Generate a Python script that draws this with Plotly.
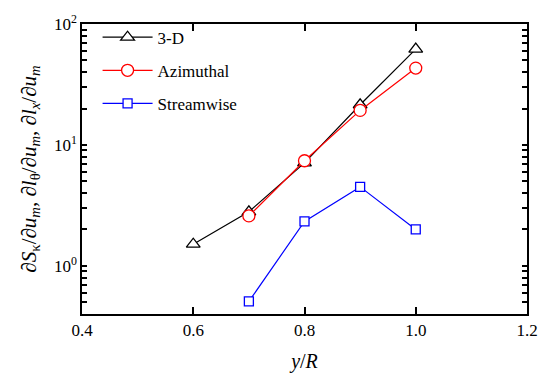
import plotly.graph_objects as go

x_3d = [0.6, 0.7, 0.8, 0.9, 1.0]
y_3d = [1.51, 2.8, 7.1, 21.5, 62]
x_az = [0.7, 0.8, 0.9, 1.0]
y_az = [2.59, 7.4, 19.3, 43.2]
x_st = [0.7, 0.8, 0.9, 1.0]
y_st = [0.508, 2.33, 4.5, 2.0]

x_ticks = [0.4, 0.6, 0.8, 1.0, 1.2]
x_ticktext = ["0.4", "0.6", "0.8", "1.0", "1.2"]
y_major = [1, 10, 100]
y_major_text = ["10<sup>0</sup>", "10<sup>1</sup>", "10<sup>2</sup>"]
y_minor = [0.4, 0.5, 0.6, 0.7, 0.8, 0.9, 2, 3, 4, 5, 6, 7, 8, 9,
           20, 30, 40, 50, 60, 70, 80, 90]

FONT = "Liberation Serif"
Y_RANGE = [-0.398, 2]
Y_TITLE = ("∂<i>S</i><sub>κ</sub>/∂<i>u</i><sub><i>m</i></sub>, "
           "∂<i>l</i><sub>θ</sub>/∂<i>u</i><sub><i>m</i></sub>, "
           "∂<i>l</i><sub><i>x</i></sub>/∂<i>u</i><sub><i>m</i></sub>")

y_tickvals = y_major + y_minor
y_ticktext = y_major_text + [""] * len(y_minor)

fig = go.Figure()
fig.add_trace(go.Scatter(x=x_3d, y=y_3d, mode="lines+markers", name="3-D",
                         legendgroup="a",
                         line=dict(color="black", width=1.2),
                         marker=dict(symbol="triangle-up", size=12, color="white",
                                     line=dict(color="black", width=1.3))))
fig.add_trace(go.Scatter(x=x_az, y=y_az, mode="lines+markers", name="Azimuthal",
                         legendgroup="b",
                         line=dict(color="red", width=1.2),
                         marker=dict(symbol="circle", size=12, color="white",
                                     line=dict(color="red", width=1.3))))
fig.add_trace(go.Scatter(x=x_st, y=y_st, mode="lines+markers", name="Streamwise",
                         legendgroup="c",
                         line=dict(color="blue", width=1.2),
                         marker=dict(symbol="square", size=9, color="white",
                                     line=dict(color="blue", width=1.3))))

fig.update_layout(
    width=550, height=381,
    margin=dict(l=82, r=13, t=15, b=64),
    plot_bgcolor="white", paper_bgcolor="white",
    font=dict(family=FONT, size=17, color="black"),
    showlegend=True,
    legend=dict(x=0.035, y=1.015, xanchor="left", yanchor="top",
                bgcolor="rgba(0,0,0,0)", font=dict(size=17, family=FONT),
                itemwidth=50, tracegroupgap=8),
    xaxis=dict(range=[0.4, 1.2], tickvals=x_ticks, ticktext=x_ticktext,
               ticks="inside", ticklen=7, tickwidth=1.5, tickcolor="black",
               showline=True, linecolor="black", linewidth=1.5, mirror="ticks",
               showgrid=False, zeroline=False,
               tickfont=dict(size=17, family=FONT),
               title=dict(text="<i>y</i>/<i>R</i>", font=dict(size=20, family=FONT),
                          standoff=15)),
    yaxis=dict(type="log", range=Y_RANGE, tickmode="array",
               tickvals=y_tickvals, ticktext=y_ticktext,
               ticks="inside", ticklen=5, tickwidth=1.5, tickcolor="black",
               showline=True, linecolor="black", linewidth=1.5, mirror="ticks",
               showgrid=False, zeroline=False,
               tickfont=dict(size=17, family=FONT),
               title=dict(text=Y_TITLE, font=dict(size=21, family=FONT), standoff=12)),
)

fig.write_html("out.html")
